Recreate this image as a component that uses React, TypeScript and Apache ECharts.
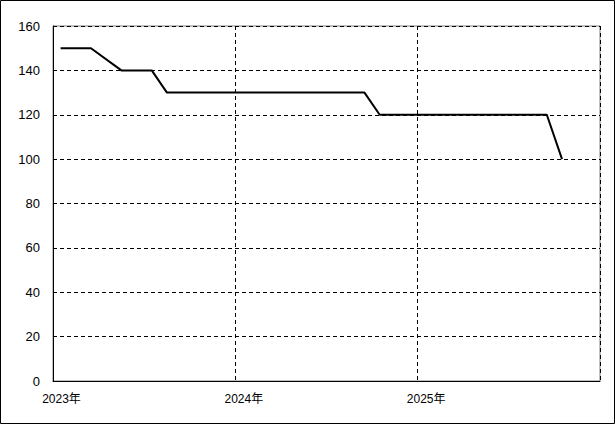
import React, { useEffect, useRef } from "react";
import * as echarts from "echarts";

const startYear = 2023;
const yearTicks = ["2023年", "2024年", "2025年"];
const months = ["2023-01", "2023-03", "2023-05", "2023-07", "2023-08", "2024-09", "2024-10", "2025-09", "2025-10"];
const values = [150, 150, 140, 140, 130, 130, 120, 120, 100];

function monthPos(s: string): number {
  const [y, m] = s.split("-").map(Number);
  return (y - startYear) * 12 + (m - 1) + 0.5;
}

export default function App() {
  const ref = useRef<HTMLDivElement>(null);
  useEffect(() => {
    if (!ref.current) return;
    const chart = echarts.init(ref.current, null, { renderer: "svg" });
    const font = "'Liberation Sans', 'Noto Sans CJK JP', sans-serif";
    chart.setOption({
      animation: false,
      backgroundColor: "#ffffff",
      grid: { left: 53, right: 15, top: 26, bottom: 43, show: true, borderColor: "#808080", borderWidth: 1, backgroundColor: "transparent" },
      graphic: [
        { type: "rect", shape: { x: 0.5, y: 0.5, width: 614, height: 423 }, style: { fill: "none", stroke: "#000", lineWidth: 1 }, silent: true }
      ],
      xAxis: {
        type: "value",
        min: 0,
        max: 36,
        interval: 12,
        axisLine: { show: true, onZero: false, lineStyle: { color: "#000", width: 1 } },
        axisTick: { show: false },
        splitLine: { show: true, lineStyle: { color: "#000", type: [4, 3], width: 1 } },
        axisLabel: {
          color: "#000",
          fontFamily: font,
          fontSize: 12,
          margin: 12,
          align: "center",
          padding: [0, 0, 0, 17],
          formatter: (v: number) => (v % 12 === 0 && v < 36 ? yearTicks[v / 12] : ""),
        },
      },
      yAxis: {
        type: "value",
        min: 0,
        max: 160,
        interval: 20,
        axisLine: { show: true, lineStyle: { color: "#000", width: 1 } },
        axisTick: { show: false },
        splitLine: { show: true, lineStyle: { color: "#000", type: [4, 3], width: 1 } },
        axisLabel: { color: "#000", fontFamily: font, fontSize: 13, margin: 13 },
      },
      series: [
        {
          type: "line",
          data: months.map((m, i) => [monthPos(m), values[i]]),
          showSymbol: false,
          symbol: "none",
          lineStyle: { color: "#000", width: 2 },
        },
      ],
    });
    return () => chart.dispose();
  }, []);
  return <div ref={ref} style={{ width: 615, height: 424, position: "absolute", left: 0, top: 0 }} />;
}
